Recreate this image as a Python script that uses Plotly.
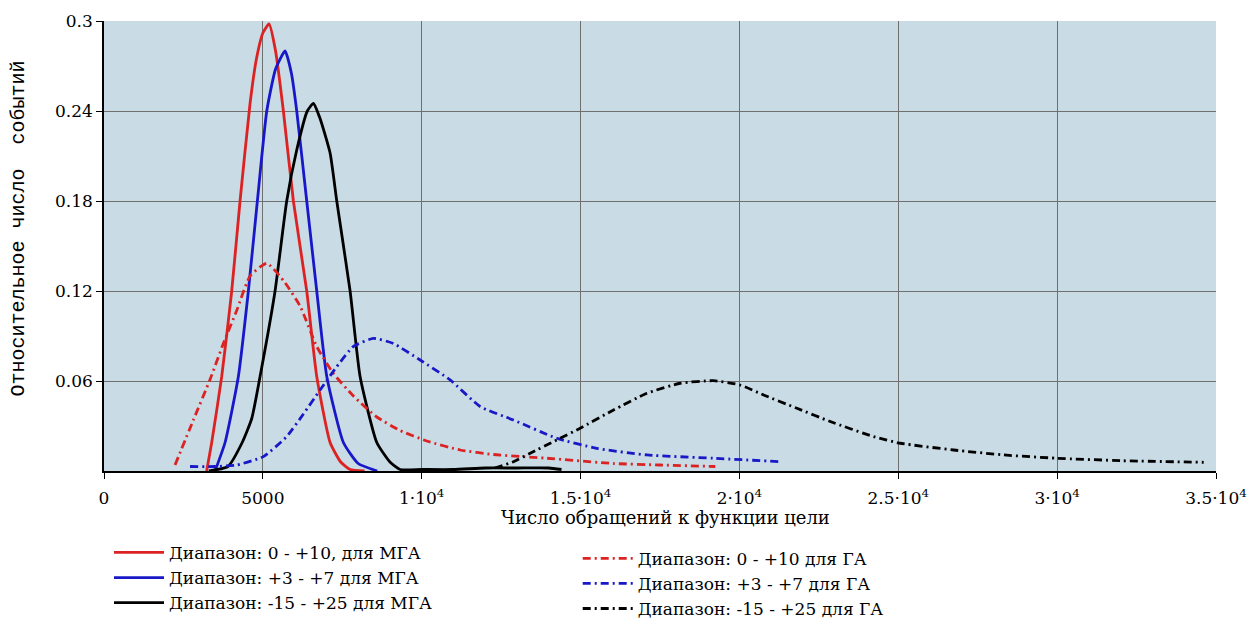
import plotly.graph_objects as go

# ---- data ----
# MGA (solid)
mga_r_x = [3230, 3390, 3705, 4020, 4282, 4597, 4800, 5000, 5195, 5400, 5646, 5961, 6381, 6696, 7116, 7450, 7746, 8200]
mga_r_y = [0.0, 0.019, 0.063, 0.12, 0.18, 0.245, 0.275, 0.292, 0.298, 0.28, 0.24, 0.18, 0.12, 0.063, 0.019, 0.006, 0.001, 0.0]

mga_b_x = [3495, 3810, 4229, 4544, 4827, 5123, 5400, 5699, 5900, 6066, 6381, 6696, 7012, 7535, 8000, 8600]
mga_b_y = [0.0, 0.019, 0.063, 0.12, 0.18, 0.24, 0.268, 0.28, 0.265, 0.24, 0.18, 0.12, 0.063, 0.019, 0.005, 0.0]

mga_k_x = [3300, 3900, 4350, 4650, 4912, 5384, 5751, 6066, 6400, 6591, 6800, 7116, 7326, 7746, 8060, 8586, 9000,
           9320, 10000, 11000, 12000, 13000, 14000, 14400]
mga_k_y = [0.0, 0.003, 0.019, 0.035, 0.063, 0.12, 0.18, 0.214, 0.24, 0.245, 0.235, 0.212, 0.18, 0.12, 0.063, 0.019,
           0.006, 0.001, 0.001, 0.001, 0.002, 0.002, 0.002, 0.001]

# GA (dash-dot)
ga_r_x = [2236, 2813, 3338, 3757, 4177, 4597, 5123, 5646, 6171, 6696, 7221, 7850, 8586, 9320, 10160, 11209, 12258,
          13940, 16038, 17500, 19240]
ga_r_y = [0.004, 0.034, 0.061, 0.085, 0.107, 0.13, 0.1385, 0.127, 0.11, 0.083, 0.065, 0.05, 0.036, 0.027, 0.02,
          0.014, 0.011, 0.0085, 0.005, 0.004, 0.003]

ga_b_x = [2708, 3500, 4177, 5016, 5751, 6276, 6801, 7326, 7850, 8480, 9110, 9950, 10894, 11839, 12888, 14254,
          15513, 17087, 19187, 21285]
ga_b_y = [0.003, 0.003, 0.004, 0.0096, 0.023, 0.038, 0.054, 0.0696, 0.083, 0.0884, 0.085, 0.074, 0.0607, 0.043,
          0.034, 0.0218, 0.0151, 0.0107, 0.0085, 0.0062]

ga_k_x = [12300, 12888, 13413, 14254, 14987, 16038, 17087, 18136, 19185, 20025, 20760, 21810, 22859, 24223, 25063,
          26742, 28316, 29997, 32000, 34613]
ga_k_y = [0.002, 0.0062, 0.0118, 0.0207, 0.0285, 0.0407, 0.0518, 0.0585, 0.0602, 0.0573, 0.0507, 0.0418, 0.033,
          0.0229, 0.0185, 0.014, 0.0107, 0.0085, 0.0069, 0.0058]

names_mga = ["Диапазон: 0 - +10, для МГА", "Диапазон: +3 - +7 для МГА", "Диапазон: -15 - +25 для МГА"]
names_ga = ["Диапазон: 0 - +10 для ГА", "Диапазон: +3 - +7 для ГА", "Диапазон: -15 - +25 для ГА"]

x_tickvals = [0, 5000, 10000, 15000, 20000, 25000, 30000, 35000]
x_ticktext = ["0", "5000", "1·10<sup>4</sup>", "1.5·10<sup>4</sup>", "2·10<sup>4</sup>",
              "2.5·10<sup>4</sup>", "3·10<sup>4</sup>", "3.5·10<sup>4</sup>"]
y_tickvals = [0.06, 0.12, 0.18, 0.24, 0.3]
y_ticktext = ["0.06", "0.12", "0.18", "0.24", "0.3"]

x_title = "Число обращений к функции цели"
y_title = "Относительное число  событий"

RED = "#dc2222"
BLUE = "#1818c8"
BLACK = "#000000"
DASHDOT = "8px,4px,2px,4px"
SERIF = "DejaVu Serif"
MONO = "Liberation Mono"

fig = go.Figure()
for xs, ys, col, nm in [(mga_r_x, mga_r_y, RED, names_mga[0]),
                        (mga_b_x, mga_b_y, BLUE, names_mga[1]),
                        (mga_k_x, mga_k_y, BLACK, names_mga[2])]:
    fig.add_trace(go.Scatter(x=xs, y=ys, mode="lines", name=nm, legend="legend",
                             line=dict(color=col, width=2.8, shape="spline", smoothing=0.5)))
for xs, ys, col, nm in [(ga_r_x, ga_r_y, RED, names_ga[0]),
                        (ga_b_x, ga_b_y, BLUE, names_ga[1]),
                        (ga_k_x, ga_k_y, BLACK, names_ga[2])]:
    fig.add_trace(go.Scatter(x=xs, y=ys, mode="lines", name=nm, legend="legend2",
                             line=dict(color=col, width=2.8, dash=DASHDOT, shape="spline", smoothing=0.5)))

fig.update_layout(
    template="none",
    width=1258, height=635,
    margin=dict(l=96, r=50, t=13, b=172),
    paper_bgcolor="white",
    plot_bgcolor="#c9dbe4",
    font=dict(family=SERIF, size=17, color="black"),
    legend=dict(x=0.0045, y=-0.142, xanchor="left", yanchor="top", bgcolor="rgba(0,0,0,0)",
                font=dict(family=SERIF, size=17), itemwidth=50, tracegroupgap=0),
    legend2=dict(x=0.426, y=-0.155, xanchor="left", yanchor="top", bgcolor="rgba(0,0,0,0)",
                 font=dict(family=SERIF, size=17), itemwidth=50, tracegroupgap=0),
    showlegend=True,
)
fig.update_xaxes(range=[0, 35000], tickvals=x_tickvals, ticktext=x_ticktext, automargin=False,
                 showgrid=True, gridcolor="#6f6f6f", gridwidth=1,
                 showline=True, linecolor="black", linewidth=1.5,
                 ticks="outside", ticklen=6, tickcolor="black", zeroline=False,
                 ticklabelstandoff=5,
                 tickfont=dict(family=SERIF, size=17))
fig.update_yaxes(range=[0, 0.3], tickvals=y_tickvals, ticktext=y_ticktext, automargin=False,
                 showgrid=True, gridcolor="#6f6f6f", gridwidth=1,
                 showline=True, linecolor="black", linewidth=1.5,
                 ticks="outside", ticklen=6, tickcolor="black", zeroline=False,
                 tickfont=dict(family=SERIF, size=17))

fig.add_annotation(text=x_title, xref="paper", yref="paper", x=0.505, y=-0.103,
                   xanchor="center", yanchor="middle", showarrow=False,
                   font=dict(family=SERIF, size=18))
fig.add_annotation(text=y_title, xref="paper", yref="paper", x=-0.076, y=0.54,
                   xanchor="center", yanchor="middle", showarrow=False, textangle=-90,
                   font=dict(family=MONO, size=20))

fig.write_html("out.html")
